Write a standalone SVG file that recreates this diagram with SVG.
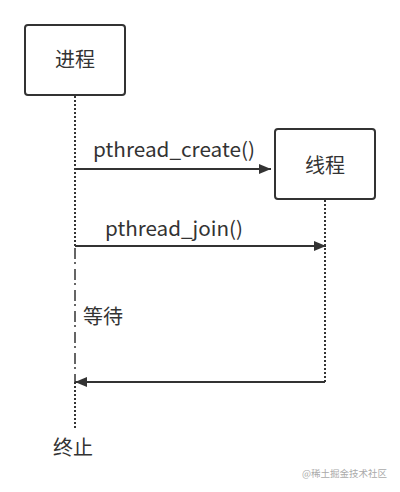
<svg xmlns="http://www.w3.org/2000/svg" width="400" height="492" viewBox="0 0 400 492">
<defs>
<marker id="ah" viewBox="0 0 12 10" refX="12" refY="5" markerWidth="12" markerHeight="10" markerUnits="userSpaceOnUse" orient="auto">
<path d="M0,0 L12,5 L0,10 Z" fill="#333"/>
</marker>
<style>
.box{fill:#fff;stroke:#333;stroke-width:2}
.t{font-family:"Noto Sans CJK SC","Noto Sans",sans-serif;font-size:20px;fill:#333}
.life{stroke:#333;stroke-width:2;stroke-dasharray:2 2;fill:none}
.wait{stroke:#333;stroke-width:1.5;stroke-dasharray:11 3 2 5;fill:none}
.msg{stroke:#333;stroke-width:2;fill:none;marker-end:url(#ah)}
</style>
</defs>
<rect width="400" height="492" fill="#fff"/>
<g id="connectors">
<line class="life" x1="75" y1="96" x2="75" y2="248"/>
<path class="wait" d="M75,248 V382"/>
<line class="life" x1="75" y1="382" x2="75" y2="430"/>
<line class="life" x1="325" y1="200" x2="325" y2="382"/>
<line class="msg" x1="75" y1="169" x2="271" y2="169"/>
<line class="msg" x1="75" y1="246" x2="326" y2="246"/>
<line class="msg" x1="325" y1="382" x2="75" y2="382"/>
</g>
<g id="process">
<rect class="box" x="25" y="25" width="100" height="70" rx="3"/>
<text class="t" x="75" y="67" text-anchor="middle">进程</text>
</g>
<g id="thread">
<rect class="box" x="275" y="129" width="100" height="70" rx="3"/>
<text class="t" x="325" y="173" text-anchor="middle">线程</text>
</g>
<g id="labels">
<text class="t" x="93" y="157" textLength="162" lengthAdjust="spacingAndGlyphs">pthread_create()</text>
<text class="t" x="105" y="236" textLength="138" lengthAdjust="spacingAndGlyphs">pthread_join()</text>
<text class="t" x="83" y="324">等待</text>
<text class="t" x="53" y="455">终止</text>
<text x="387" y="477" text-anchor="end" style="font-family:'Noto Sans CJK SC',sans-serif;font-size:9.5px;fill:#aaa">@稀土掘金技术社区</text>
</g>
</svg>
